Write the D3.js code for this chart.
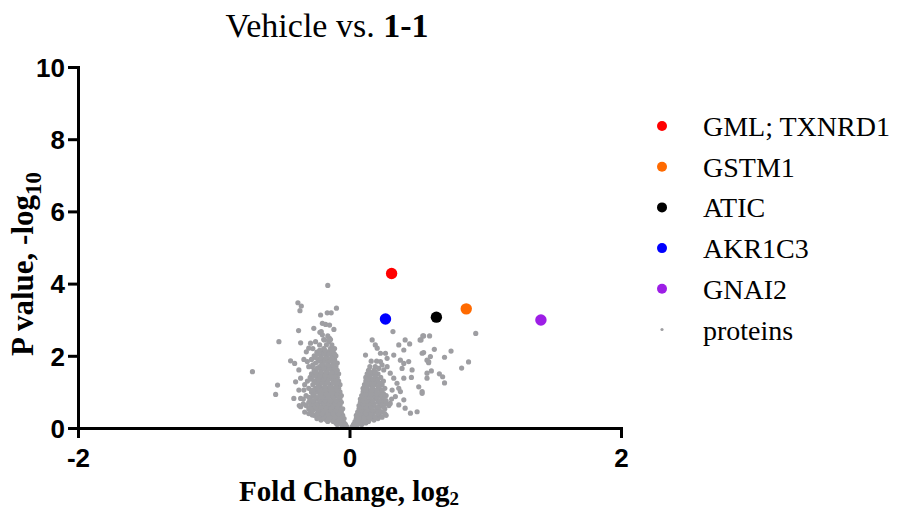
<!DOCTYPE html>
<html>
<head>
<meta charset="utf-8">
<script src="https://cdn.jsdelivr.net/npm/d3@7"></script>
<style>
  body { margin: 0; background: #fff; }
  svg { display: block; }
</style>
</head>
<body>
<div class="chart"></div>
<script>
// DATA
const HIGHLIGHT_NAMES = ["GML; TXNRD1", "GSTM1", "ATIC", "AKR1C3", "GNAI2"];
const HIGHLIGHT_FC = [0.31, 0.86, 0.64, 0.265, 1.41];
const HIGHLIGHT_P = [4.28, 3.30, 3.07, 3.02, 2.99];
const HIGHLIGHT_COLORS = ["#ff0000", "#ff6a00", "#000000", "#0000ff", "#9d1ee6"];

const X_TICKS = [-2, 0, 2];
const Y_TICKS = [0, 2, 4, 6, 8, 10];

// gray proteins [log2 fold change, -log10 p]
const PROTEINS_OUTER = [
  [-0.16, 3.95], [-0.38, 3.47], [-0.355, 3.38], [-0.365, 3.25], [-0.096, 3.32],
  [-0.164, 3.19], [-0.135, 3.19], [-0.213, 3.13], [-0.263, 2.76], [-0.2, 2.90],
  [-0.208, 2.67], [-0.375, 2.70], [-0.147, 2.85], [-0.176, 2.87], [-0.115, 2.73],
  [-0.218, 2.65], [-0.2, 2.58], [-0.147, 2.48], [-0.152, 2.39], [-0.52, 2.39],
  [-0.36, 2.36], [-0.287, 2.35], [-0.25, 2.39], [-0.30, 2.21], [-0.318, 2.11],
  [-0.184, 2.44], [-0.434, 1.86], [-0.404, 1.79], [-0.336, 1.90], [-0.311, 1.84],
  [-0.274, 1.70], [-0.373, 1.61], [-0.715, 1.56], [-0.53, 1.19], [-0.544, 0.93],
  [-0.397, 1.28], [-0.36, 1.38], [-0.373, 1.05], [-0.41, 0.82], [-0.36, 0.82],
  [-0.336, 1.05], [-0.274, 0.36], [-0.213, 0.31], [-0.36, 0.59],
  [0.32, 2.67], [0.167, 2.44], [0.19, 2.30], [0.204, 2.21], [0.118, 2.02],
  [0.228, 2.07], [0.265, 2.07], [0.326, 2.02], [0.277, 1.93], [0.363, 2.30],
  [0.40, 2.16], [0.443, 2.33], [0.41, 2.44], [0.52, 2.44], [0.546, 2.55],
  [0.535, 2.07], [0.228, 1.84], [0.24, 1.75], [0.215, 1.65], [0.252, 1.61],
  [0.277, 1.70], [0.30, 1.52], [0.375, 1.88], [0.40, 1.79], [0.436, 1.84],
  [0.387, 1.65], [0.461, 1.61], [0.456, 1.40], [0.40, 1.38], [0.51, 1.14],
  [0.535, 1.01], [0.571, 1.52], [0.583, 1.84], [0.326, 1.38], [0.35, 1.24],
  [0.363, 1.10], [0.375, 1.01], [0.314, 1.05], [0.338, 0.87], [0.40, 0.78],
  [0.363, 0.64], [0.41, 0.55], [0.30, 0.68], [0.449, 0.41], [0.498, 0.45],
  [0.54, 2.55], [0.59, 2.55], [0.527, 2.44], [0.93, 2.62], [0.546, 2.09],
  [0.625, 2.18], [0.596, 1.98], [0.571, 1.88], [0.583, 1.81], [0.70, 1.96],
  [0.748, 2.13], [0.877, 1.83], [0.826, 1.66], [0.603, 1.58], [0.571, 1.38],
  [0.662, 1.50], [0.686, 1.42], [0.70, 1.25], [0.535, 0.96]
];

const PROTEINS_LEFT_CORE = [
  [-0.02, 0.04], [-0.04, 0.04], [-0.03, 0.10], [-0.06, 0.10], [-0.09, 0.10],
  [-0.05, 0.18], [-0.08, 0.18], [-0.12, 0.18], [-0.16, 0.18],
  [-0.04, 0.26], [-0.07, 0.26], [-0.11, 0.26], [-0.15, 0.26], [-0.19, 0.26], [-0.24, 0.26],
  [-0.05, 0.35], [-0.09, 0.35], [-0.13, 0.35], [-0.17, 0.35], [-0.21, 0.35], [-0.26, 0.35],
  [-0.06, 0.44], [-0.10, 0.44], [-0.14, 0.44], [-0.18, 0.44], [-0.22, 0.44], [-0.28, 0.44], [-0.33, 0.44],
  [-0.05, 0.53], [-0.08, 0.53], [-0.12, 0.53], [-0.16, 0.53], [-0.20, 0.53], [-0.25, 0.53], [-0.30, 0.53],
  [-0.07, 0.62], [-0.11, 0.62], [-0.15, 0.62], [-0.19, 0.62], [-0.23, 0.62], [-0.27, 0.62], [-0.32, 0.62], [-0.37, 0.62],
  [-0.06, 0.71], [-0.09, 0.71], [-0.13, 0.71], [-0.17, 0.71], [-0.21, 0.71], [-0.26, 0.71], [-0.30, 0.71],
  [-0.07, 0.80], [-0.12, 0.80], [-0.16, 0.80], [-0.20, 0.80], [-0.24, 0.80], [-0.29, 0.80], [-0.34, 0.80],
  [-0.06, 0.90], [-0.10, 0.90], [-0.14, 0.90], [-0.18, 0.90], [-0.22, 0.90], [-0.27, 0.90], [-0.32, 0.90],
  [-0.07, 1.00], [-0.11, 1.00], [-0.15, 1.00], [-0.19, 1.00], [-0.24, 1.00], [-0.28, 1.00],
  [-0.08, 1.10], [-0.12, 1.10], [-0.16, 1.10], [-0.20, 1.10], [-0.25, 1.10], [-0.30, 1.10],
  [-0.07, 1.20], [-0.10, 1.20], [-0.14, 1.20], [-0.18, 1.20], [-0.22, 1.20], [-0.27, 1.20], [-0.33, 1.20],
  [-0.08, 1.30], [-0.12, 1.30], [-0.17, 1.30], [-0.21, 1.30], [-0.26, 1.30], [-0.31, 1.30],
  [-0.09, 1.40], [-0.13, 1.40], [-0.16, 1.40], [-0.20, 1.40], [-0.24, 1.40], [-0.29, 1.40],
  [-0.08, 1.50], [-0.11, 1.50], [-0.15, 1.50], [-0.19, 1.50], [-0.23, 1.50], [-0.28, 1.50],
  [-0.09, 1.60], [-0.13, 1.60], [-0.17, 1.60], [-0.21, 1.60], [-0.26, 1.60],
  [-0.10, 1.70], [-0.14, 1.70], [-0.18, 1.70], [-0.22, 1.70], [-0.30, 1.70],
  [-0.09, 1.80], [-0.12, 1.80], [-0.16, 1.80], [-0.20, 1.80], [-0.25, 1.80],
  [-0.11, 1.90], [-0.15, 1.90], [-0.19, 1.90], [-0.23, 1.90], [-0.28, 1.90],
  [-0.10, 2.00], [-0.13, 2.00], [-0.17, 2.00], [-0.21, 2.00], [-0.26, 2.00],
  [-0.12, 2.10], [-0.16, 2.10], [-0.20, 2.10], [-0.24, 2.10],
  [-0.11, 2.20], [-0.14, 2.20], [-0.19, 2.20], [-0.27, 2.20],
  [-0.13, 2.30], [-0.17, 2.30], [-0.22, 2.30], [-0.14, 2.45], [-0.19, 2.45], [-0.16, 2.55]
];

const PROTEINS_LEFT_FILL = [
  [-0.04, 0.14], [-0.07, 0.14], [-0.10, 0.14],
  [-0.06, 0.22], [-0.09, 0.22], [-0.13, 0.22], [-0.17, 0.22], [-0.21, 0.22],
  [-0.07, 0.30], [-0.11, 0.30], [-0.15, 0.30], [-0.19, 0.30], [-0.23, 0.30],
  [-0.08, 0.40], [-0.12, 0.40], [-0.16, 0.40], [-0.20, 0.40], [-0.24, 0.40], [-0.30, 0.40],
  [-0.07, 0.49], [-0.10, 0.49], [-0.14, 0.49], [-0.18, 0.49], [-0.23, 0.49], [-0.27, 0.49],
  [-0.09, 0.58], [-0.13, 0.58], [-0.17, 0.58], [-0.21, 0.58], [-0.25, 0.58], [-0.29, 0.58],
  [-0.08, 0.67], [-0.11, 0.67], [-0.15, 0.67], [-0.19, 0.67], [-0.24, 0.67], [-0.28, 0.67], [-0.34, 0.67],
  [-0.10, 0.76], [-0.14, 0.76], [-0.18, 0.76], [-0.22, 0.76], [-0.27, 0.76],
  [-0.08, 0.85], [-0.12, 0.85], [-0.16, 0.85], [-0.20, 0.85], [-0.25, 0.85], [-0.30, 0.85],
  [-0.09, 0.95], [-0.13, 0.95], [-0.17, 0.95], [-0.21, 0.95], [-0.26, 0.95],
  [-0.09, 1.05], [-0.14, 1.05], [-0.18, 1.05], [-0.22, 1.05], [-0.27, 1.05],
  [-0.10, 1.15], [-0.14, 1.15], [-0.18, 1.15], [-0.23, 1.15],
  [-0.09, 1.25], [-0.12, 1.25], [-0.16, 1.25], [-0.20, 1.25], [-0.24, 1.25],
  [-0.10, 1.35], [-0.15, 1.35], [-0.19, 1.35], [-0.23, 1.35], [-0.28, 1.35],
  [-0.11, 1.45], [-0.14, 1.45], [-0.18, 1.45], [-0.22, 1.45], [-0.26, 1.45],
  [-0.10, 1.55], [-0.13, 1.55], [-0.17, 1.55], [-0.21, 1.55], [-0.25, 1.55],
  [-0.11, 1.65], [-0.15, 1.65], [-0.19, 1.65], [-0.24, 1.65],
  [-0.12, 1.75], [-0.16, 1.75], [-0.20, 1.75], [-0.27, 1.75],
  [-0.11, 1.85], [-0.14, 1.85], [-0.18, 1.85], [-0.22, 1.85],
  [-0.13, 1.95], [-0.17, 1.95], [-0.21, 1.95], [-0.25, 1.95],
  [-0.11, 2.05], [-0.15, 2.05], [-0.19, 2.05], [-0.23, 2.05],
  [-0.13, 2.15], [-0.18, 2.15], [-0.22, 2.15]
];

const PROTEINS_RIGHT_CORE = [
  [0.02, 0.04], [0.04, 0.04], [0.03, 0.10], [0.06, 0.10], [0.09, 0.10],
  [0.04, 0.18], [0.07, 0.18], [0.10, 0.18], [0.14, 0.18],
  [0.05, 0.26], [0.08, 0.26], [0.12, 0.26], [0.16, 0.26], [0.21, 0.26],
  [0.05, 0.35], [0.09, 0.35], [0.13, 0.35], [0.17, 0.35], [0.22, 0.35], [0.27, 0.35],
  [0.06, 0.44], [0.10, 0.44], [0.14, 0.44], [0.19, 0.44], [0.24, 0.44],
  [0.07, 0.53], [0.11, 0.53], [0.15, 0.53], [0.20, 0.53], [0.26, 0.53],
  [0.07, 0.62], [0.10, 0.62], [0.14, 0.62], [0.18, 0.62], [0.23, 0.62], [0.29, 0.62],
  [0.08, 0.71], [0.12, 0.71], [0.16, 0.71], [0.21, 0.71], [0.25, 0.71],
  [0.08, 0.80], [0.11, 0.80], [0.15, 0.80], [0.19, 0.80], [0.24, 0.80], [0.31, 0.80],
  [0.09, 0.90], [0.13, 0.90], [0.17, 0.90], [0.22, 0.90], [0.27, 0.90],
  [0.10, 1.00], [0.14, 1.00], [0.18, 1.00], [0.23, 1.00],
  [0.10, 1.10], [0.13, 1.10], [0.17, 1.10], [0.21, 1.10], [0.26, 1.10],
  [0.11, 1.20], [0.15, 1.20], [0.19, 1.20], [0.24, 1.20],
  [0.12, 1.30], [0.16, 1.30], [0.20, 1.30], [0.25, 1.30],
  [0.12, 1.40], [0.15, 1.40], [0.19, 1.40], [0.23, 1.40],
  [0.13, 1.50], [0.17, 1.50], [0.21, 1.50],
  [0.14, 1.60], [0.18, 1.60], [0.15, 1.70], [0.19, 1.70], [0.16, 1.85], [0.20, 1.85]
];

const PROTEINS_RIGHT_FILL = [
  [0.05, 0.14], [0.08, 0.14], [0.12, 0.14],
  [0.06, 0.22], [0.10, 0.22], [0.14, 0.22], [0.18, 0.22],
  [0.07, 0.30], [0.11, 0.30], [0.15, 0.30], [0.19, 0.30], [0.24, 0.30],
  [0.08, 0.40], [0.12, 0.40], [0.16, 0.40], [0.21, 0.40], [0.26, 0.40],
  [0.09, 0.49], [0.13, 0.49], [0.17, 0.49], [0.22, 0.49],
  [0.09, 0.58], [0.12, 0.58], [0.16, 0.58], [0.21, 0.58], [0.25, 0.58],
  [0.10, 0.67], [0.14, 0.67], [0.18, 0.67], [0.23, 0.67], [0.27, 0.67],
  [0.10, 0.76], [0.13, 0.76], [0.17, 0.76], [0.22, 0.76], [0.27, 0.76],
  [0.11, 0.85], [0.15, 0.85], [0.20, 0.85], [0.25, 0.85],
  [0.12, 0.95], [0.16, 0.95], [0.20, 0.95], [0.25, 0.95],
  [0.12, 1.05], [0.16, 1.05], [0.20, 1.05], [0.24, 1.05],
  [0.13, 1.15], [0.17, 1.15], [0.22, 1.15],
  [0.13, 1.25], [0.18, 1.25], [0.22, 1.25],
  [0.14, 1.35], [0.17, 1.35], [0.21, 1.35],
  [0.15, 1.45], [0.19, 1.45], [0.15, 1.55], [0.19, 1.55]
];

// GLOBAL CONSTANTS
const FRAME_WIDTH = 902;
const FRAME_HEIGHT = 512;
const PLOT = {left: 78, right: 621, top: 67, bottom: 428};
const SERIF = "'Times New Roman', 'Liberation Serif', serif";
const SANS = "Arial, 'Liberation Sans', sans-serif";
const GRAY = "#9e9ea2";

const FRAME = d3.select(".chart")
  .append("svg")
    .attr("width", FRAME_WIDTH)
    .attr("height", FRAME_HEIGHT);

const X_SCALE = d3.scaleLinear().domain([-2, 2]).range([PLOT.left, PLOT.right]);
const Y_SCALE = d3.scaleLinear().domain([0, 10]).range([PLOT.bottom, PLOT.top]);

// gray points
const ALL_PROTEINS = PROTEINS_OUTER.concat(PROTEINS_LEFT_CORE, PROTEINS_LEFT_FILL,
                                           PROTEINS_RIGHT_CORE, PROTEINS_RIGHT_FILL);
FRAME.append("g")
  .selectAll("circle")
  .data(ALL_PROTEINS)
  .enter()
  .append("circle")
    .attr("cx", (d) => X_SCALE(d[0]))
    .attr("cy", (d) => Y_SCALE(d[1]))
    .attr("r", 2.6)
    .style("fill", GRAY);

// X AXIS
const xAxis = FRAME.append("g")
  .attr("transform", "translate(0," + PLOT.bottom + ")")
  .call(d3.axisBottom(X_SCALE).tickValues(X_TICKS).tickFormat((d) => String(d))
          .tickSize(10).tickSizeOuter(0).tickPadding(11));

// Y AXIS
const yAxis = FRAME.append("g")
  .attr("transform", "translate(" + PLOT.left + ",0)")
  .call(d3.axisLeft(Y_SCALE).tickValues(Y_TICKS).tickFormat((d) => String(d))
          .tickSize(10).tickSizeOuter(0).tickPadding(3));

[xAxis, yAxis].forEach((ax) => {
  ax.select(".domain").attr("stroke", "#000").attr("stroke-width", 3).attr("stroke-linecap", "square");
  ax.selectAll(".tick line").attr("stroke", "#000").attr("stroke-width", 3);
  ax.selectAll("text")
    .attr("fill", "#000")
    .style("font-family", SANS)
    .style("font-weight", "bold")
    .style("font-size", "26px");
});
yAxis.selectAll("text").attr("dy", "0.36em");

// highlighted proteins
FRAME.append("g")
  .selectAll("circle")
  .data(HIGHLIGHT_NAMES)
  .enter()
  .append("circle")
    .attr("cx", (d, i) => X_SCALE(HIGHLIGHT_FC[i]))
    .attr("cy", (d, i) => Y_SCALE(HIGHLIGHT_P[i]))
    .attr("r", 5.7)
    .style("fill", (d, i) => HIGHLIGHT_COLORS[i]);

// TITLE
const title = FRAME.append("text")
  .attr("x", 327)
  .attr("y", 37)
  .attr("text-anchor", "middle")
  .style("font-family", SERIF)
  .style("font-size", "34px");
title.append("tspan").text("Vehicle vs. ");
title.append("tspan").style("font-weight", "bold").text("1-1");

// AXIS LABELS
const xLabel = FRAME.append("text")
  .attr("x", 349)
  .attr("y", 501)
  .attr("text-anchor", "middle")
  .style("font-family", SERIF)
  .style("font-weight", "bold")
  .style("font-size", "29px");
xLabel.append("tspan").text("Fold Change, log");
xLabel.append("tspan").attr("dy", 4).style("font-size", "19px").text("2");

const yLabel = FRAME.append("text")
  .attr("transform", "translate(33,264) rotate(-90)")
  .attr("text-anchor", "middle")
  .style("font-family", SERIF)
  .style("font-weight", "bold")
  .style("font-size", "31px");
yLabel.append("tspan").text("P value, -log");
yLabel.append("tspan").attr("dy", 8).style("font-size", "23px").text("10");

// LEGEND
const LEGEND_ITEMS = HIGHLIGHT_NAMES.concat(["proteins"]);
const LEGEND_COLORS = HIGHLIGHT_COLORS.concat([GRAY]);
const legend = FRAME.append("g").attr("transform", "translate(662,126)");
const rows = legend.selectAll("g")
  .data(LEGEND_ITEMS)
  .enter()
  .append("g")
    .attr("transform", (d, i) => "translate(0," + (i * 40.7) + ")");
rows.append("circle")
  .attr("r", (d, i) => i < 5 ? 5 : 1.6)
  .style("fill", (d, i) => LEGEND_COLORS[i]);
rows.append("text")
  .attr("x", 41)
  .attr("y", 10)
  .style("font-family", SERIF)
  .style("font-size", "28px")
  .attr("fill", "#000")
  .text((d) => d);
</script>
</body>
</html>
